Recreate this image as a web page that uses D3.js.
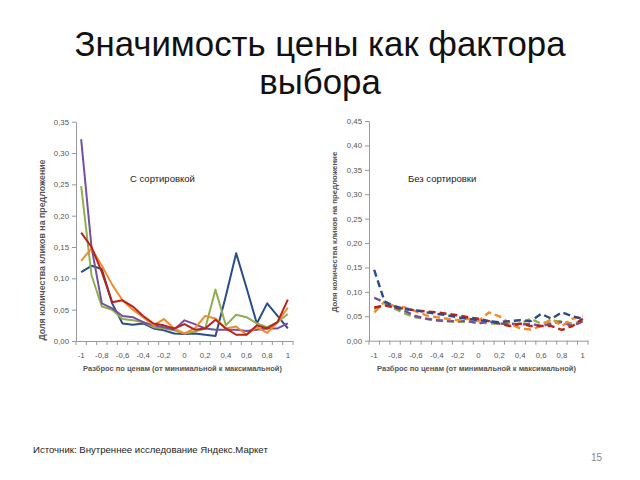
<!DOCTYPE html>
<html><head><meta charset="utf-8">
<script src="https://cdn.jsdelivr.net/npm/d3@7"></script>
<style>body{margin:0;background:#fff}svg{display:block}</style>
</head><body>
<svg id="c" width="640" height="480"></svg>
<script>
const categories = [-1,-0.9,-0.8,-0.7,-0.6,-0.5,-0.4,-0.3,-0.2,-0.1,0,0.1,0.2,0.3,0.4,0.5,0.6,0.7,0.8,0.9,1];
const yTicksLeft = [0,0.05,0.10,0.15,0.20,0.25,0.30,0.35];
const yTicksRight = [0,0.05,0.10,0.15,0.20,0.25,0.30,0.35,0.40,0.45];
const seriesNames = ["s1","s2","s3","s4","s5"];
const colors = ["#2a4d8a","#8fb04e","#7350a0","#f28a2e","#b8231c"];

// Left chart: С сортировкой
const sortedBlue   = [0.110,0.120,0.115,0.060,0.028,0.026,0.028,0.020,0.017,0.012,0.011,0.012,0.010,0.008,0.072,0.140,0.085,0.028,0.060,0.040,0.020];
const sortedGreen  = [0.247,0.105,0.055,0.050,0.035,0.033,0.030,0.022,0.020,0.017,0.012,0.015,0.020,0.082,0.025,0.042,0.038,0.028,0.022,0.030,0.043];
const sortedPurple = [0.322,0.150,0.060,0.052,0.040,0.038,0.030,0.025,0.022,0.018,0.033,0.027,0.020,0.018,0.018,0.018,0.016,0.018,0.020,0.020,0.028];
const sortedOrange = [0.128,0.148,0.120,0.090,0.065,0.050,0.038,0.025,0.035,0.020,0.012,0.020,0.040,0.036,0.020,0.023,0.010,0.022,0.013,0.030,0.053];
const sortedRed    = [0.173,0.150,0.110,0.062,0.065,0.055,0.040,0.028,0.025,0.020,0.027,0.018,0.020,0.034,0.020,0.010,0.010,0.025,0.020,0.030,0.066];

// Right chart: Без сортировки
const unsortedBlue   = [0.145,0.080,0.070,0.065,0.062,0.058,0.055,0.052,0.048,0.045,0.042,0.040,0.038,0.040,0.042,0.040,0.055,0.045,0.058,0.050,0.045];
const unsortedPurple = [0.088,0.078,0.068,0.060,0.050,0.045,0.042,0.040,0.040,0.040,0.035,0.040,0.035,0.035,0.033,0.035,0.030,0.035,0.038,0.030,0.040];
const unsortedOrange = [0.058,0.080,0.070,0.068,0.060,0.052,0.048,0.045,0.042,0.045,0.040,0.058,0.050,0.035,0.025,0.023,0.030,0.045,0.030,0.045,0.050];
const unsortedRed    = [0.068,0.072,0.068,0.065,0.062,0.060,0.058,0.055,0.052,0.048,0.045,0.040,0.035,0.030,0.035,0.030,0.030,0.030,0.022,0.030,0.045];
const unsortedGreen  = [0.065,0.075,0.065,0.055,0.048,0.045,0.042,0.040,0.038,0.040,0.038,0.035,0.035,0.033,0.035,0.045,0.035,0.040,0.040,0.035,0.040];

const svg = d3.select("#c");
const FONT = "'Liberation Sans', Arial, sans-serif";
const fmt = v => d3.format(".2f")(v).replace(".", ",");
const fmtX = v => (Math.round(v*10)/10).toString().replace(".", ",");

svg.append("text").attr("x",320).attr("y",56).attr("text-anchor","middle")
  .attr("font-family",FONT).attr("font-size",34.8).attr("fill","#111")
  .text("Значимость цены как фактора");
svg.append("text").attr("x",320).attr("y",94).attr("text-anchor","middle")
  .attr("font-family",FONT).attr("font-size",34.8).attr("fill","#111")
  .text("выбора");

function chart(opt){
  const g = svg.append("g");
  const x = d3.scaleBand().domain(categories).range([opt.x0, opt.x1]);
  const y = d3.scaleLinear().domain([0, opt.ymax]).range([opt.y0, opt.y1]);
  const ya = g.append("g").attr("transform",`translate(${opt.x0},0)`)
    .call(d3.axisLeft(y).tickValues(opt.yticks).tickFormat(fmt).tickSize(4).tickSizeOuter(0));
  ya.select(".domain").attr("stroke","#999");
  ya.selectAll(".tick line").attr("stroke","#999");
  ya.selectAll(".tick text").attr("font-family",FONT).attr("font-size",7.8).attr("fill","#555").attr("x",-7);
  const xa = g.append("g").attr("transform",`translate(0,${opt.y0})`)
    .call(d3.axisBottom(x).tickValues([]).tickSizeOuter(0));
  xa.select(".domain").attr("stroke","#999");
  const bounds = categories.map((c,i)=>opt.x0 + i*x.step()).concat([opt.x1]);
  g.selectAll(".xt").data(bounds).join("line")
    .attr("x1",d=>d).attr("x2",d=>d).attr("y1",opt.y0).attr("y2",opt.y0+4).attr("stroke","#999");
  g.selectAll(".xl").data(categories.filter((c,i)=>i%2===0)).join("text")
    .attr("x",d=>x(d)+x.bandwidth()/2).attr("y",opt.y0+17).attr("text-anchor","middle")
    .attr("font-family",FONT).attr("font-size",7.8).attr("fill","#555").text(fmtX);
  g.append("text").attr("transform",`translate(${opt.ytx},${opt.yty}) rotate(-90)`)
    .attr("text-anchor","middle").attr("font-family",FONT).attr("font-weight","bold")
    .attr("font-size",opt.ytfs).attr("fill","#555").text("Доля количества кликов на предложение");
  g.append("text").attr("x",(opt.x0+opt.x1)/2-2).attr("y",opt.y0+30).attr("text-anchor","middle")
    .attr("font-family",FONT).attr("font-weight","bold").attr("font-size",7.5).attr("fill","#555")
    .text("Разброс по ценам (от минимальной  к максимальной)");
  g.append("text").attr("x",opt.lx).attr("y",opt.ly).attr("font-family",FONT).attr("font-size",9.5)
    .attr("fill","#222").text(opt.label);
  const line = d3.line().x((d,i)=>x(categories[i])+x.bandwidth()/2).y(d=>y(d));
  opt.series.forEach((s,k)=>{
    g.append("path").datum(s.values).attr("d",line).attr("fill","none")
      .attr("stroke",s.color).attr("stroke-width",opt.sw)
      .attr("stroke-dasharray",opt.dash||null).attr("stroke-linejoin","round");
  });
}

chart({x0:76,x1:293,y0:341,y1:121.7,ymax:0.35,yticks:yTicksLeft,ytx:45,yty:250,ytfs:8.8,
  lx:130,ly:182,label:"С сортировкой",sw:2,
  series:[{values:sortedBlue,color:colors[0]},{values:sortedGreen,color:colors[1]},
          {values:sortedPurple,color:colors[2]},{values:sortedOrange,color:colors[3]},
          {values:sortedRed,color:colors[4]}]});

chart({x0:369,x1:588,y0:340.7,y1:121,ymax:0.45,yticks:yTicksRight,ytx:337,yty:232,ytfs:7.8,
  lx:408,ly:182,label:"Без сортировки",sw:2.4,dash:"7,4",
  series:[{values:unsortedGreen,color:colors[1]},{values:unsortedPurple,color:colors[2]},
          {values:unsortedOrange,color:colors[3]},{values:unsortedRed,color:colors[4]},
          {values:unsortedBlue,color:colors[0]}]});

svg.append("text").attr("x",33).attr("y",453).attr("font-family",FONT).attr("font-size",9.6)
  .attr("fill","#222").text("Источник: Внутреннее исследование Яндекс.Маркет");
svg.append("text").attr("x",591).attr("y",461).attr("font-family",FONT).attr("font-size",10)
  .attr("fill","#888").text("15");
</script>
</body></html>
